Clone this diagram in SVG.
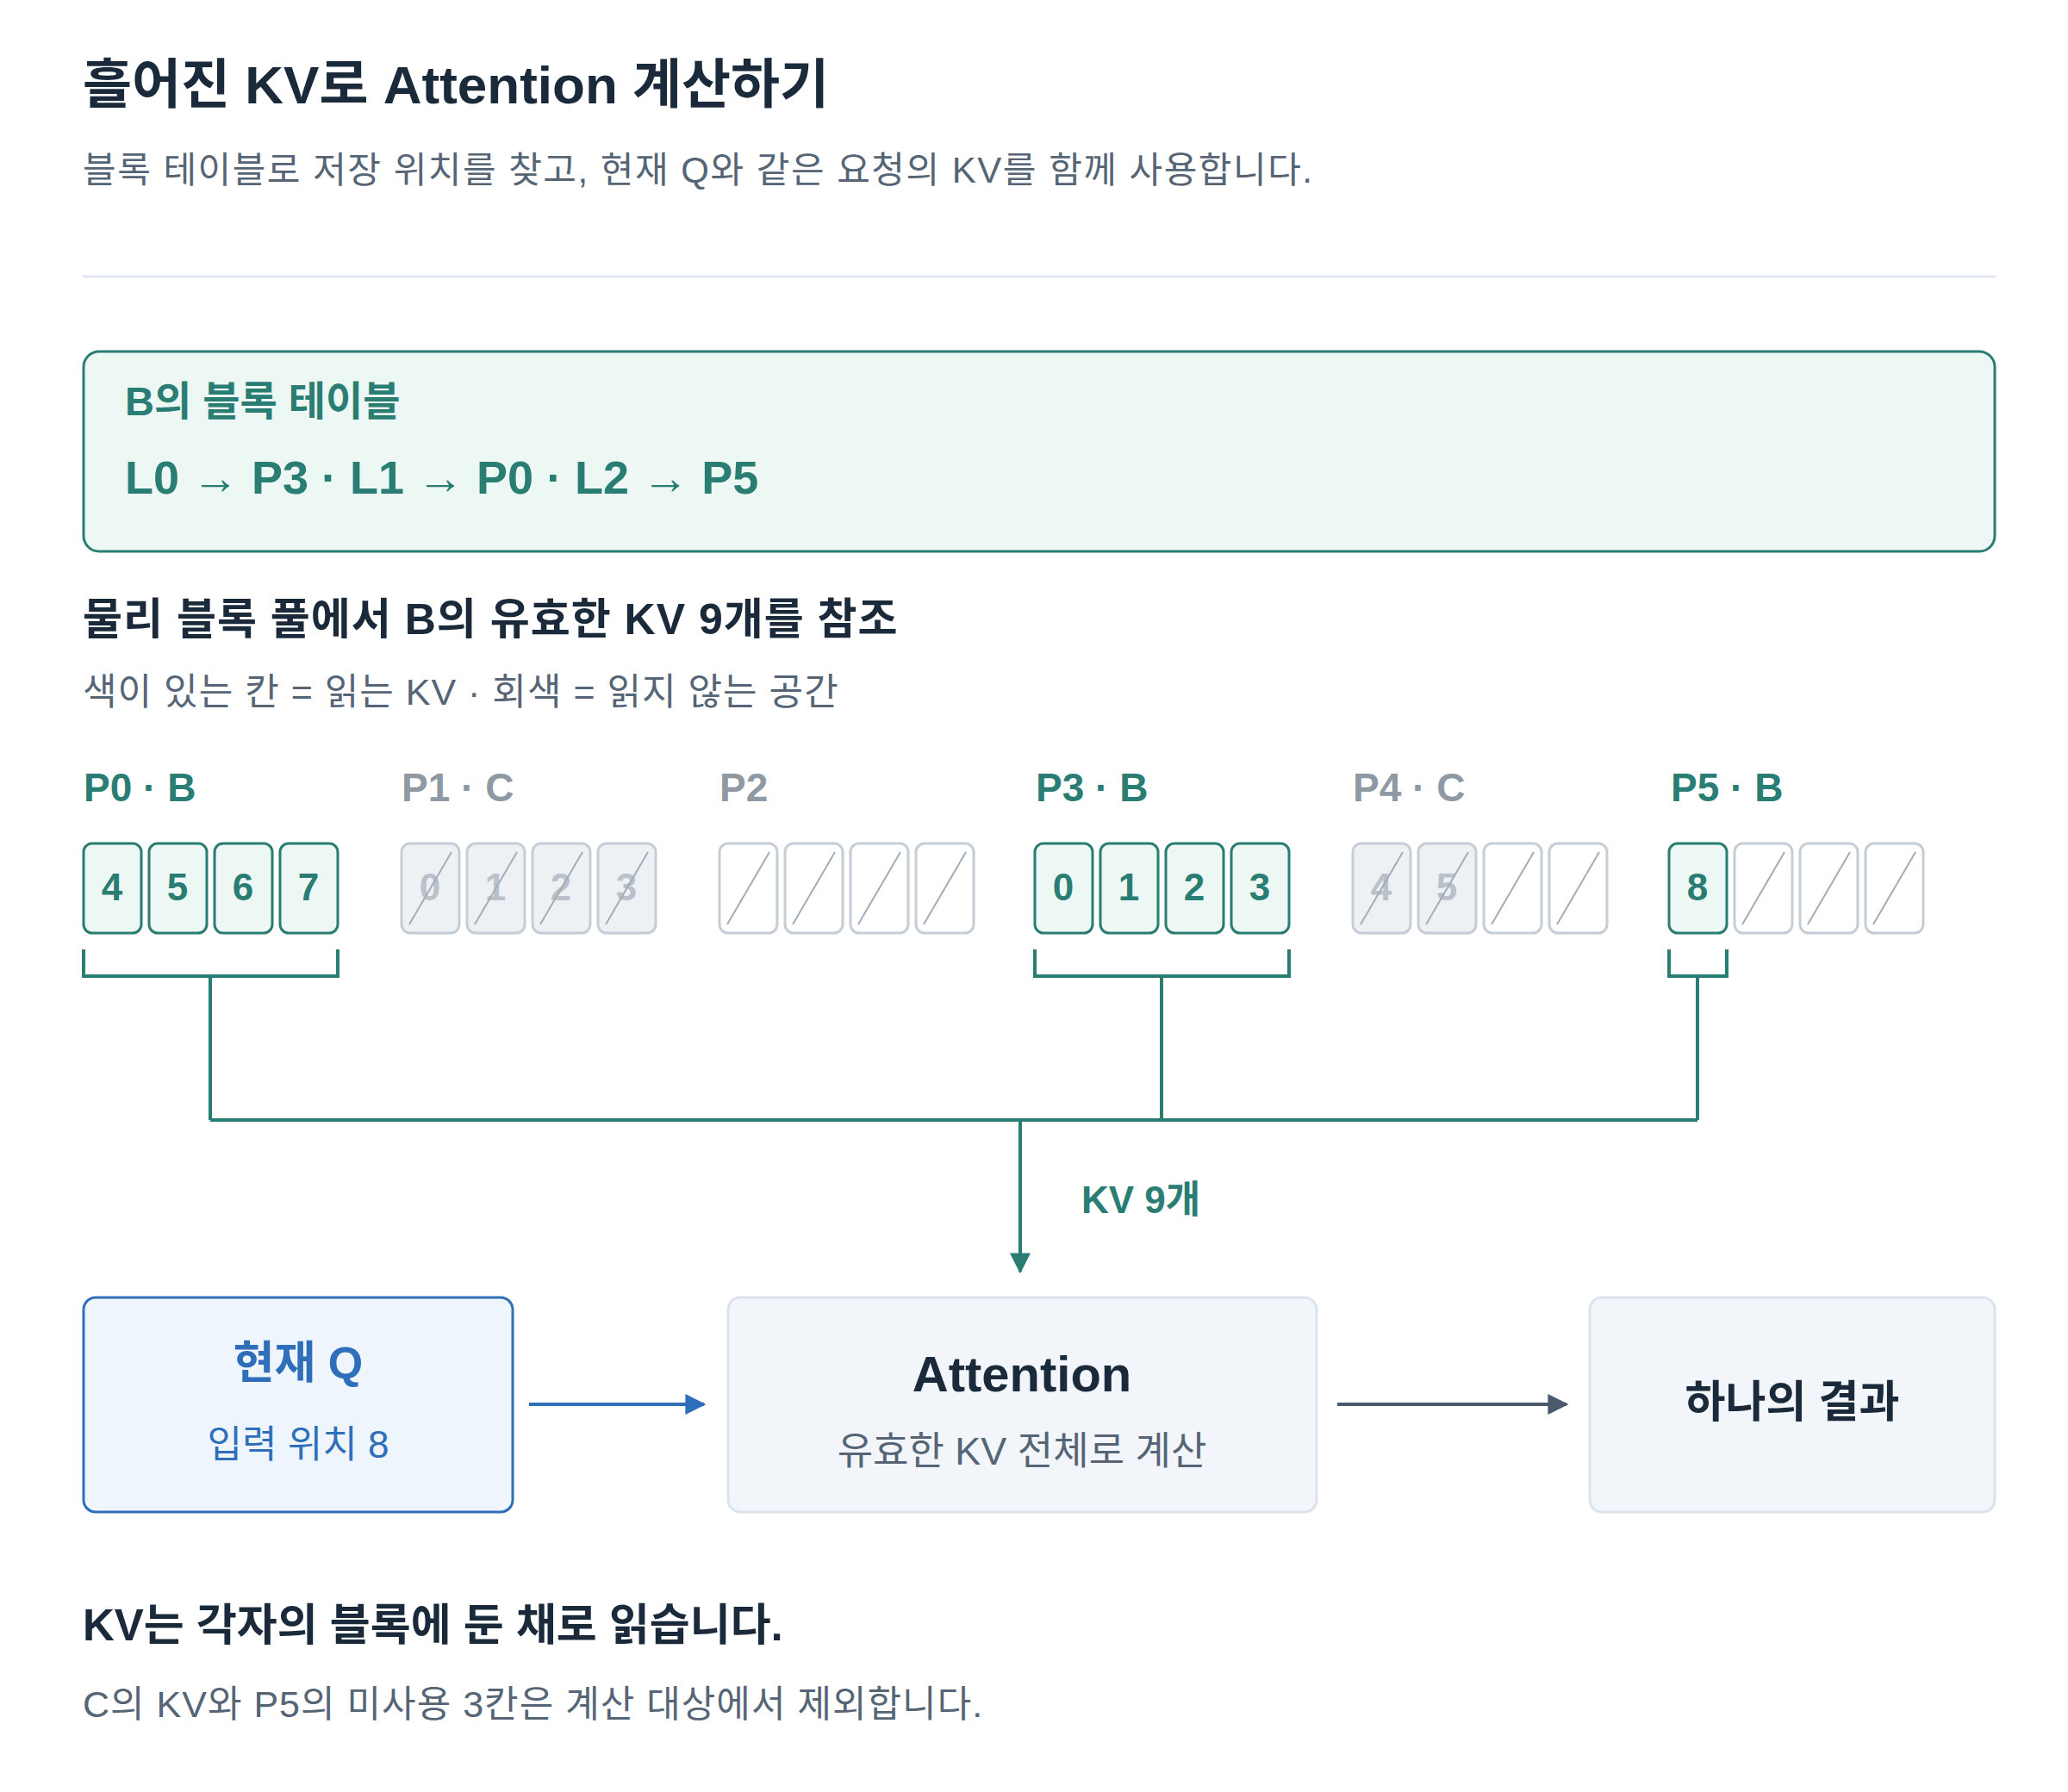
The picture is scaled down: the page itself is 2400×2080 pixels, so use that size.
<svg xmlns="http://www.w3.org/2000/svg" width="2400" height="2080" viewBox="0 0 2400 2080">
<defs>
<style>
text{font-family:"Liberation Sans","Noto Sans CJK KR",sans-serif}
.b{font-weight:bold}
.teal{fill:#2a7d73}
.grey{fill:#8f99a3}
.cv{fill:#edf7f4;stroke:#2a7d73;stroke-width:3}
.cg{fill:#eef1f4;stroke:#c5cdd6;stroke-width:3}
.ce{fill:#fff;stroke:#c5cdd6;stroke-width:3}
.sl{stroke:#a3adb8;stroke-width:2}
.nv{font-size:44px;font-weight:bold;fill:#2a7d73;text-anchor:middle}
.ng{font-size:44px;font-weight:bold;fill:#b9c1ca;text-anchor:middle}
.con{fill:none;stroke:#2a7d73;stroke-width:4}
</style>
<marker id="ah" viewBox="0 0 10 10" refX="9" refY="5" markerWidth="6" markerHeight="6" orient="auto"><path d="M0,0L10,5L0,10z" fill="#2a7d73"/></marker>
<marker id="ab" viewBox="0 0 10 10" refX="9" refY="5" markerWidth="6" markerHeight="6" orient="auto"><path d="M0,0L10,5L0,10z" fill="#2f6fba"/></marker>
<marker id="ag" viewBox="0 0 10 10" refX="9" refY="5" markerWidth="6" markerHeight="6" orient="auto"><path d="M0,0L10,5L0,10z" fill="#4a5a6a"/></marker>
</defs>
<rect width="2400" height="2080" fill="#fff"/>
<g id="header">
<text x="96" y="120" class="b" font-size="62" fill="#1b2a3a">흘어진 KV로 Attention 계산하기</text>
<text x="96" y="212" font-size="42" letter-spacing="1.5" fill="#566576">블록 테이블로 저장 위치를 찾고, 현재 Q와 같은 요청의 KV를 함께 사용합니다.</text>
<line x1="96" y1="321" x2="2316" y2="321" stroke="#e2e8f0" stroke-width="3"/>
</g>
<g id="block-table">
<rect x="97" y="408" width="2218" height="232" rx="18" fill="#edf7f4" stroke="#2a7d73" stroke-width="3"/>
<text x="145" y="482" class="b teal" font-size="47">B의 블록 테이블</text>
<text x="145" y="573" class="b teal" font-size="54">L0 → P3 · L1 → P0 · L2 → P5</text>
</g>
<g id="pool-heading">
<text x="96" y="736" class="b" font-size="50" letter-spacing="1" fill="#1b2a3a">물리 블록 풀에서 B의 유효한 KV 9개를 참조</text>
<text x="96" y="818" font-size="43" letter-spacing="1" fill="#566576">색이 있는 칸 = 읽는 KV · 회색 = 읽지 않는 공간</text>
</g>
<g id="P0">
<text x="97" y="930" class="b teal" font-size="46">P0 · B</text>
<rect class="cv" x="97" y="979" width="67" height="104" rx="10"/><text class="nv" x="130" y="1045">4</text>
<rect class="cv" x="173" y="979" width="67" height="104" rx="10"/><text class="nv" x="206" y="1045">5</text>
<rect class="cv" x="249" y="979" width="67" height="104" rx="10"/><text class="nv" x="282" y="1045">6</text>
<rect class="cv" x="325" y="979" width="67" height="104" rx="10"/><text class="nv" x="358" y="1045">7</text>
</g>
<g id="P1">
<text x="466" y="930" class="b grey" font-size="46">P1 · C</text>
<rect class="cg" x="466" y="979" width="67" height="104" rx="10"/><text class="ng" x="499" y="1045">0</text><line class="sl" x1="475" y1="1073" x2="524" y2="989"/>
<rect class="cg" x="542" y="979" width="67" height="104" rx="10"/><text class="ng" x="575" y="1045">1</text><line class="sl" x1="551" y1="1073" x2="600" y2="989"/>
<rect class="cg" x="618" y="979" width="67" height="104" rx="10"/><text class="ng" x="651" y="1045">2</text><line class="sl" x1="627" y1="1073" x2="676" y2="989"/>
<rect class="cg" x="694" y="979" width="67" height="104" rx="10"/><text class="ng" x="727" y="1045">3</text><line class="sl" x1="703" y1="1073" x2="752" y2="989"/>
</g>
<g id="P2">
<text x="835" y="930" class="b grey" font-size="46">P2</text>
<rect class="ce" x="835" y="979" width="67" height="104" rx="10"/><line class="sl" x1="844" y1="1073" x2="893" y2="989"/>
<rect class="ce" x="911" y="979" width="67" height="104" rx="10"/><line class="sl" x1="920" y1="1073" x2="969" y2="989"/>
<rect class="ce" x="987" y="979" width="67" height="104" rx="10"/><line class="sl" x1="996" y1="1073" x2="1045" y2="989"/>
<rect class="ce" x="1063" y="979" width="67" height="104" rx="10"/><line class="sl" x1="1072" y1="1073" x2="1121" y2="989"/>
</g>
<g id="P3">
<text x="1202" y="930" class="b teal" font-size="46">P3 · B</text>
<rect class="cv" x="1201" y="979" width="67" height="104" rx="10"/><text class="nv" x="1234" y="1045">0</text>
<rect class="cv" x="1277" y="979" width="67" height="104" rx="10"/><text class="nv" x="1310" y="1045">1</text>
<rect class="cv" x="1353" y="979" width="67" height="104" rx="10"/><text class="nv" x="1386" y="1045">2</text>
<rect class="cv" x="1429" y="979" width="67" height="104" rx="10"/><text class="nv" x="1462" y="1045">3</text>
</g>
<g id="P4">
<text x="1570" y="930" class="b grey" font-size="46">P4 · C</text>
<rect class="cg" x="1570" y="979" width="67" height="104" rx="10"/><text class="ng" x="1603" y="1045">4</text><line class="sl" x1="1579" y1="1073" x2="1628" y2="989"/>
<rect class="cg" x="1646" y="979" width="67" height="104" rx="10"/><text class="ng" x="1679" y="1045">5</text><line class="sl" x1="1655" y1="1073" x2="1704" y2="989"/>
<rect class="ce" x="1722" y="979" width="67" height="104" rx="10"/><line class="sl" x1="1731" y1="1073" x2="1780" y2="989"/>
<rect class="ce" x="1798" y="979" width="67" height="104" rx="10"/><line class="sl" x1="1807" y1="1073" x2="1856" y2="989"/>
</g>
<g id="P5">
<text x="1939" y="930" class="b teal" font-size="46">P5 · B</text>
<rect class="cv" x="1937" y="979" width="67" height="104" rx="10"/><text class="nv" x="1970" y="1045">8</text>
<rect class="ce" x="2013" y="979" width="67" height="104" rx="10"/><line class="sl" x1="2022" y1="1073" x2="2071" y2="989"/>
<rect class="ce" x="2089" y="979" width="67" height="104" rx="10"/><line class="sl" x1="2098" y1="1073" x2="2147" y2="989"/>
<rect class="ce" x="2165" y="979" width="67" height="104" rx="10"/><line class="sl" x1="2174" y1="1073" x2="2223" y2="989"/>
</g>
<g id="connectors">
<path class="con" d="M97,1102V1133H392V1102M244,1133V1300"/>
<path class="con" d="M1201,1102V1133H1496V1102M1348,1133V1300"/>
<path class="con" d="M1937,1102V1133H2004V1102M1970,1133V1300"/>
<path class="con" d="M244,1300H1970"/>
<line x1="1184" y1="1300" x2="1184" y2="1476" stroke="#2a7d73" stroke-width="4" marker-end="url(#ah)"/>
<text x="1255" y="1408" class="b teal" font-size="44">KV 9개</text>
<line x1="614" y1="1630" x2="817" y2="1630" stroke="#2f6fba" stroke-width="4" marker-end="url(#ab)"/>
<line x1="1552" y1="1630" x2="1818" y2="1630" stroke="#4a5a6a" stroke-width="4" marker-end="url(#ag)"/>
</g>
<g id="query">
<rect x="97" y="1506" width="498" height="249" rx="14" fill="#eef5fc" stroke="#2f6fba" stroke-width="3"/>
<text x="346" y="1600" class="b" font-size="52" fill="#2f6fba" text-anchor="middle">현재 Q</text>
<text x="346" y="1692" font-size="44" fill="#2f6fba" text-anchor="middle">입력 위치 8</text>
</g>
<g id="attention">
<rect x="845" y="1506" width="683" height="249" rx="14" fill="#f2f6fa" stroke="#dbe3ec" stroke-width="3"/>
<text x="1186" y="1615" class="b" font-size="58" fill="#1b2a3a" text-anchor="middle">Attention</text>
<text x="1186" y="1700" font-size="45" fill="#566576" text-anchor="middle">유효한 KV 전체로 계산</text>
</g>
<g id="result">
<rect x="1845" y="1506" width="470" height="249" rx="14" fill="#f2f6fa" stroke="#dbe3ec" stroke-width="3"/>
<text x="2080" y="1645" class="b" font-size="51" fill="#1b2a3a" text-anchor="middle">하나의 결과</text>
</g>
<g id="footer">
<text x="96" y="1904" class="b" font-size="51" fill="#1b2a3a">KV는 각자의 블록에 둔 채로 읽습니다.</text>
<text x="96" y="1993" font-size="43" letter-spacing="1" fill="#566576">C의 KV와 P5의 미사용 3칸은 계산 대상에서 제외합니다.</text>
</g>
</svg>
